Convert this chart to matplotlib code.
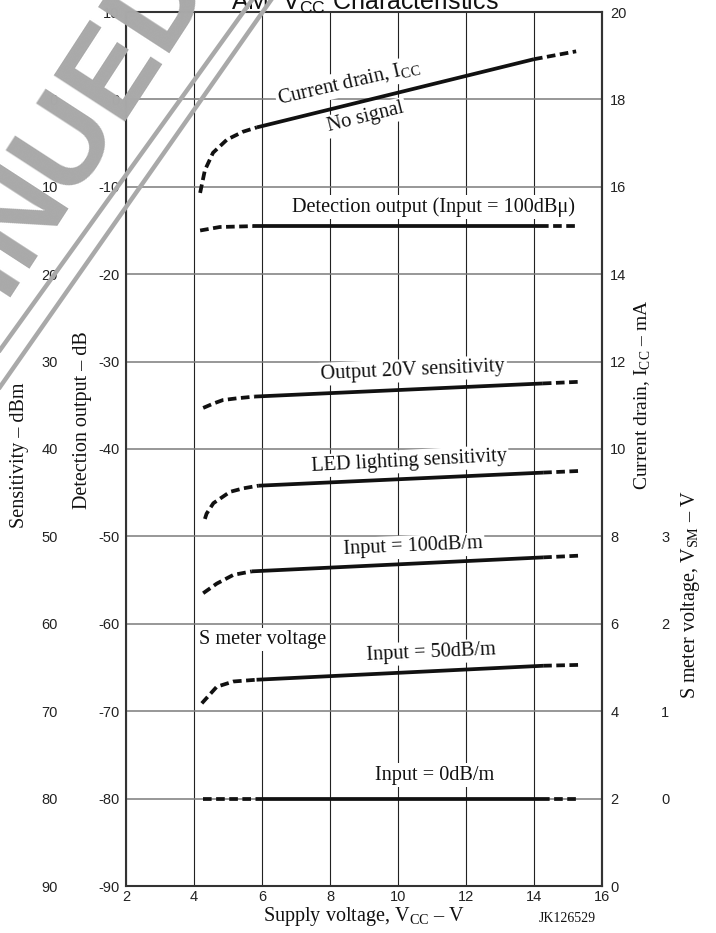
import numpy as np
import matplotlib
matplotlib.use("Agg")
import matplotlib.pyplot as plt
from matplotlib.lines import Line2D

plt.rcParams["font.family"] = ["Liberation Sans", "DejaVu Sans"]
plt.rcParams["mathtext.fontset"] = "custom"
plt.rcParams["mathtext.rm"] = "Liberation Serif"
plt.rcParams["mathtext.sf"] = "Liberation Sans"

# ---- data ----
vcc_ticks = [2, 4, 6, 8, 10, 12, 14, 16]
det_ticks = [-90, -80, -70, -60, -50, -40, -30, -20, -10, 0, 10]
sens_ticks = [0, 10, 20, 30, 40, 50, 60, 70, 80, 90]
icc_ticks = [0, 2, 4, 6, 8, 10, 12, 14, 16, 18, 20]
vsm_ticks = [0, 1, 2, 3]

# current drain, no signal (mA)
icc_x = [4.18, 4.32, 4.56, 4.97, 5.44, 5.85, 14.0, 15.24]
icc_y = [15.86, 16.38, 16.78, 17.08, 17.26, 17.36, 18.92, 19.10]
icc_solid = (5.85, 14.0)

# detection output, input = 100dBu (dB)
det_x = [4.18, 4.76, 5.74, 14.18, 15.25]
det_y = [-15.0, -14.6, -14.5, -14.5, -14.5]
det_solid = (5.74, 14.18)

# output 20V sensitivity (dBm)
out20_x = [4.27, 4.57, 4.85, 5.26, 5.79, 14.26, 15.4]
out20_y = [35.3, 34.8, 34.4, 34.2, 34.0, 32.5, 32.3]
out20_solid = (5.79, 14.26)

# LED lighting sensitivity (dBm)
led_x = [4.32, 4.37, 4.57, 5.06, 5.45, 5.89, 14.27, 15.4]
led_y = [48.0, 47.4, 46.2, 44.9, 44.5, 44.2, 42.7, 42.5]
led_solid = (5.89, 14.27)

# S meter voltage (V)
sm100_x = [4.27, 4.67, 5.16, 5.7, 14.27, 15.35]
sm100_y = [2.35, 2.46, 2.56, 2.60, 2.76, 2.78]
sm100_solid = (5.7, 14.27)

sm50_x = [4.23, 4.67, 5.16, 5.84, 14.27, 15.35]
sm50_y = [1.09, 1.28, 1.34, 1.36, 1.52, 1.53]
sm50_solid = (5.84, 14.27)

sm0_x = [4.27, 5.9, 14.2, 15.25]
sm0_y = [0.0, 0.0, 0.0, 0.0]
sm0_solid = (5.9, 14.2)

W, H = 716, 933
LW = 2.7
SERIF = ["Liberation Serif", "DejaVu Serif"]


def fx(p):
    return p / W


def fy(p):
    return 1 - p / H


fig = plt.figure(figsize=(W / 100, H / 100), dpi=100)
ax = fig.add_axes([fx(126), fy(886), 476 / W, 874 / H])

ax.set_xlim(2, 16)
ax.set_ylim(-90, 10)
ax.set_xticks(vcc_ticks)
ax.set_xticklabels([str(v) for v in vcc_ticks])
ax.set_yticks(det_ticks)
ax.set_yticklabels([str(v) for v in det_ticks])
ax.tick_params(axis="both", length=0, labelsize=10.5, colors="#222")
ax.tick_params(axis="y", pad=4.5)
ax.tick_params(axis="x", pad=3)
ax.set_axisbelow(True)
ax.xaxis.grid(True, color="#222", lw=0.8)
ax.yaxis.grid(True, color="#7a7a7a", lw=1.1)
for s in ax.spines.values():
    s.set_color("#333")
    s.set_linewidth(1.5)

# current drain axis (right)
ax_i = ax.twinx()
ax_i.set_ylim(0, 20)
ax_i.set_yticks(icc_ticks)
ax_i.set_yticklabels([str(v) for v in icc_ticks])
ax_i.tick_params(axis="y", length=0, pad=6, labelsize=10.5, colors="#222")
for k, s in ax_i.spines.items():
    s.set_visible(k == "right")
    s.set_color("#333")
    s.set_linewidth(1.5)

# sensitivity axis (outer left)
ax_s = ax.twinx()
ax_s.set_ylim(90, -10)
ax_s.yaxis.set_ticks_position("left")
ax_s.spines["left"].set_position(("axes", (58 - 126) / 476))
ax_s.set_yticks(sens_ticks)
ax_s.set_yticklabels([str(v) for v in sens_ticks])
ax_s.tick_params(axis="y", length=0, pad=0, labelsize=10.5, colors="#222")
for s in ax_s.spines.values():
    s.set_visible(False)

# S meter voltage axis (outer right)
ax_v = ax.twinx()
ax_v.set_ylim(-1, 9)
ax_v.spines["right"].set_position(("axes", (661 - 126) / 476))
ax_v.set_yticks(vsm_ticks)
ax_v.set_yticklabels([str(v) for v in vsm_ticks])
ax_v.tick_params(axis="y", length=0, pad=0, labelsize=10.5, colors="#222")
for s in ax_v.spines.values():
    s.set_visible(False)


def draw(axis, xs, ys, solid):
    xs = np.array(xs)
    ys = np.array(ys)
    lo, hi = solid
    head = xs <= lo
    mid = (xs >= lo) & (xs <= hi)
    tail = xs >= hi
    kw = dict(color="#111", lw=LW, dash_capstyle="butt", solid_capstyle="butt")
    axis.plot(xs[head], ys[head], dashes=(2.3, 1.2), **kw)
    axis.plot(xs[mid], ys[mid], **kw)
    axis.plot(xs[tail], ys[tail], dashes=(2.3, 1.2), **kw)


draw(ax_i, icc_x, icc_y, icc_solid)
draw(ax, det_x, det_y, det_solid)
draw(ax_s, out20_x, out20_y, out20_solid)
draw(ax_s, led_x, led_y, led_solid)
draw(ax_v, sm100_x, sm100_y, sm100_solid)
draw(ax_v, sm50_x, sm50_y, sm50_solid)
draw(ax_v, sm0_x, sm0_y, sm0_solid)

# curve labels
box = dict(facecolor="white", edgecolor="none", pad=1.5)
notes = [
    (8.56, 1.9, "Current drain, I$_{\\mathrm{CC}}$", 13),
    (9.06, -2.1, "No signal", 14),
    (11.03, -12.3, "Detection output (Input = 100dBμ)", 0),
    (10.44, -31.0, "Output 20V sensitivity", 2.5),
    (10.32, -41.4, "LED lighting sensitivity", 3),
    (10.44, -51.2, "Input = 100dB/m", 2.5),
    (6.03, -61.85, "S meter voltage", 0),
    (10.97, -63.3, "Input = 50dB/m", 2.5),
    (11.09, -77.3, "Input = 0dB/m", 0),
]
for x, y, t, r in notes:
    ax.text(x, y, t, rotation=r, ha="center", va="center", family=SERIF,
            fontsize=14.6, color="#111", bbox=box, zorder=3,
            rotation_mode="anchor")

# axis titles
fig.text(fx(20), fy(455), "Sensitivity – dBm", rotation=90, ha="center",
         va="center", family=SERIF, fontsize=14.5, color="#111")
fig.text(fx(82), fy(420), "Detection output – dB", rotation=90, ha="center",
         va="center", family=SERIF, fontsize=14.5, color="#111")
fig.text(fx(643), fy(395), "Current drain, I$_{\\mathrm{CC}}$ – mA", rotation=90,
         ha="center", va="center", family=SERIF, fontsize=14, color="#111")
fig.text(fx(690), fy(595), "S meter voltage, V$_{\\mathrm{SM}}$ – V", rotation=90,
         ha="center", va="center", family=SERIF, fontsize=14.5, color="#111")
fig.text(fx(364), fy(916), "Supply voltage, V$_{\\mathrm{CC}}$ – V", ha="center",
         va="center", family=SERIF, fontsize=14.5, color="#111")
fig.text(fx(567), fy(918), "JK126529", ha="center", va="center",
         family=SERIF, fontsize=10, color="#111")
fig.text(fx(365), fy(10), "AM  V$_{\\mathsf{CC}}$ Characteristics", ha="center",
         va="baseline", fontsize=18, color="#111")

# watermark
wm = "#a9a9a9"
for y0, x1 in [(350, 252), (387, 271)]:
    fig.add_artist(Line2D([0, fx(x1)], [fy(y0), 1], transform=fig.transFigure,
                          color=wm, lw=3.2, zorder=5))
fig.text(fx(22), fy(268), "NUED", rotation=57, rotation_mode="anchor",
         ha="left", va="baseline", fontsize=88, fontweight="bold", color=wm,
         zorder=5)
fig.text(fx(22), fy(268), "DISCONTI", rotation=57, rotation_mode="anchor",
         ha="right", va="baseline", fontsize=88, fontweight="bold", color=wm,
         zorder=5)

fig.savefig("out.png", dpi=100)
